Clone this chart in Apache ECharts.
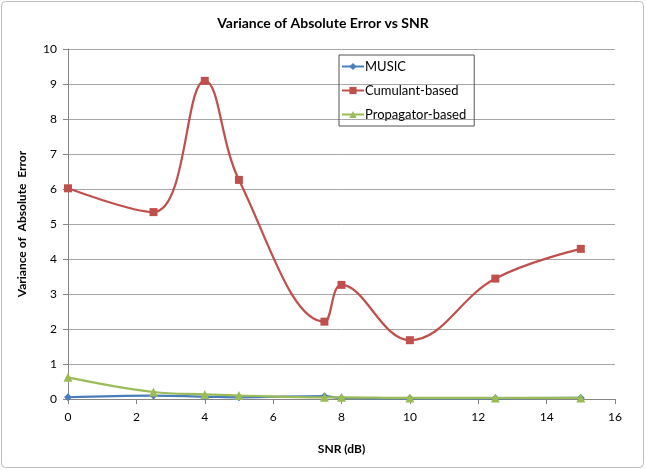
<!DOCTYPE html>
<html>
<head>
<meta charset="utf-8">
<script src="https://cdn.jsdelivr.net/npm/echarts@6/dist/echarts.min.js"></script>
<style>
  body { margin: 0; background: #fff; }
  #main { width: 646px; height: 470px; }
</style>
</head>
<body>
<div id="main"></div>
<script>
// SNR values (dB)
var snr = [0, 2.5, 4, 5, 7.5, 8, 10, 12.5, 15];

// variance of absolute error per method
var music = [0.05, 0.1, 0.07, 0.05, 0.08, 0.03, 0.02, 0.02, 0.03];
var cumulant = [6.02, 5.34, 9.09, 6.26, 2.21, 3.26, 1.68, 3.44, 4.29];
var propagator = [0.62, 0.2, 0.13, 0.1, 0.05, 0.05, 0.03, 0.03, 0.03];

var font = 'Lato, "Liberation Sans", sans-serif';

function pairs(ys) {
    return snr.map(function (x, i) { return [x, ys[i]]; });
}

var myChart = echarts.init(document.getElementById('main'));

var option = {
    backgroundColor: '#fff',
    animation: false,
    textStyle: { fontFamily: font },
    title: {
        text: 'Variance of Absolute Error vs SNR',
        left: 'center',
        top: 11,
        textStyle: { fontFamily: font, fontSize: 14, fontWeight: 'bold', color: '#000' }
    },
    graphic: [{
        type: 'rect',
        shape: { x: 1.5, y: 1.5, width: 642, height: 466, r: 4 },
        style: { fill: 'none', stroke: '#bfbfbf', lineWidth: 1 },
        silent: true
    }],
    legend: {
        orient: 'vertical',
        left: 339,
        top: 55,
        padding: [5, 8, 5, 2],
        itemGap: 11,
        itemWidth: 22,
        itemHeight: 9,
        borderColor: '#555',
        borderWidth: 1,
        borderRadius: 0,
        textStyle: { fontFamily: font, fontSize: 13, color: '#000', padding: [0, 0, 0, -4] },
        data: ['MUSIC', 'Cumulant-based', 'Propagator-based']
    },
    grid: { left: 68, right: 31, top: 49, bottom: 71 },
    xAxis: {
        type: 'value',
        min: 0,
        max: 16,
        interval: 2,
        name: 'SNR (dB)',
        nameLocation: 'middle',
        nameGap: 44,
        nameTextStyle: { fontFamily: font, fontSize: 12, fontWeight: 'bold', color: '#000' },
        axisLine: { lineStyle: { color: '#868686' } },
        axisTick: { show: true, length: 5, lineStyle: { color: '#868686' } },
        axisLabel: { fontFamily: font, fontSize: 12, color: '#000', margin: 12 },
        splitLine: { show: false }
    },
    yAxis: {
        type: 'value',
        min: 0,
        max: 10,
        interval: 1,
        name: 'Variance of  Absolute  Error',
        nameLocation: 'middle',
        nameGap: 40,
        nameTextStyle: { fontFamily: font, fontSize: 12, fontWeight: 'bold', color: '#000' },
        axisLine: { show: true, lineStyle: { color: '#868686' } },
        axisTick: { show: true, length: 5, lineStyle: { color: '#868686' } },
        axisLabel: { fontFamily: font, fontSize: 12, color: '#000', margin: 11 },
        splitLine: { lineStyle: { color: '#a6a6a6', width: 1 } }
    },
    series: [
        {
            name: 'MUSIC',
            type: 'line',
            data: pairs(music),
            smooth: 0.4,
            symbol: 'diamond',
            symbolSize: 8,
            color: '#4a7ebb',
            lineStyle: { width: 2.25 },
            z: 3
        },
        {
            name: 'Cumulant-based',
            type: 'line',
            data: pairs(cumulant),
            smooth: 0.4,
            symbol: 'rect',
            symbolSize: 8,
            color: '#c0504d',
            lineStyle: { width: 2.25 },
            z: 4
        },
        {
            name: 'Propagator-based',
            type: 'line',
            data: pairs(propagator),
            smooth: 0.4,
            symbol: 'triangle',
            symbolSize: 9,
            color: '#9bbb59',
            lineStyle: { width: 2.25 },
            z: 5
        }
    ]
};

myChart.setOption(option);
</script>
</body>
</html>
